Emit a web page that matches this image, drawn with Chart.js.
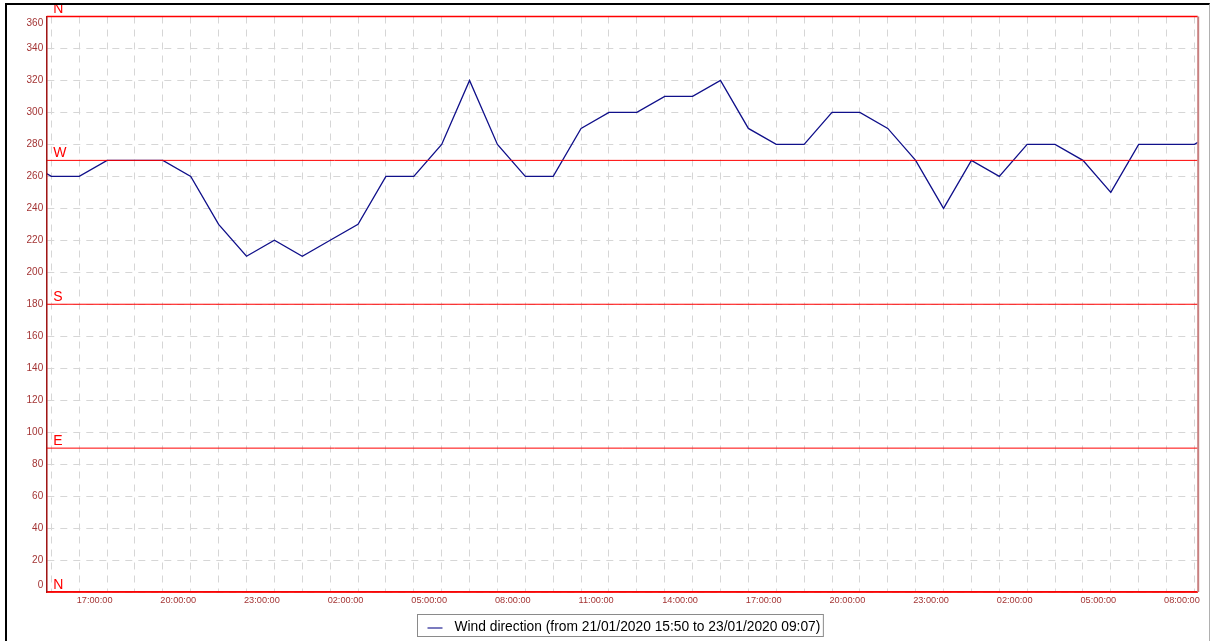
<!DOCTYPE html>
<html>
<head>
<meta charset="utf-8">
<script src="https://cdn.jsdelivr.net/npm/chart.js@4/dist/chart.umd.min.js"></script>
<style>
  html, body { margin: 0; padding: 0; background: #fff; }
  #frame {
    position: absolute; left: 5px; top: 3px; width: 1205px; height: 640px;
    border-left: 2px solid #000; border-top: 2px solid #000; border-right: 1px solid #b0b0b0;
    box-sizing: border-box; overflow: hidden; background: #fff;
  }
  #c { position: absolute; left: -7px; top: -5px; }
</style>
</head>
<body>
<div id="frame"><canvas id="c" width="1211" height="641"></canvas></div>
<script>
// ---- data ----
const seriesLabel = 'Wind direction (from 21/01/2020 15:50 to 23/01/2020 09:07)';
const rangeStart = '21/01/2020 15:50';
const rangeEnd = '23/01/2020 09:07';
const times = [
  '21/01/2020 15:00', '21/01/2020 16:00', '21/01/2020 17:00', '21/01/2020 18:00',
  '21/01/2020 19:00', '21/01/2020 20:00', '21/01/2020 21:00', '21/01/2020 22:00',
  '21/01/2020 23:00', '22/01/2020 00:00', '22/01/2020 01:00', '22/01/2020 02:00',
  '22/01/2020 03:00', '22/01/2020 04:00', '22/01/2020 05:00', '22/01/2020 06:00',
  '22/01/2020 07:00', '22/01/2020 08:00', '22/01/2020 09:00', '22/01/2020 10:00',
  '22/01/2020 11:00', '22/01/2020 12:00', '22/01/2020 13:00', '22/01/2020 14:00',
  '22/01/2020 15:00', '22/01/2020 16:00', '22/01/2020 17:00', '22/01/2020 18:00',
  '22/01/2020 19:00', '22/01/2020 20:00', '22/01/2020 21:00', '22/01/2020 22:00',
  '22/01/2020 23:00', '23/01/2020 00:00', '23/01/2020 01:00', '23/01/2020 02:00',
  '23/01/2020 03:00', '23/01/2020 04:00', '23/01/2020 05:00', '23/01/2020 06:00',
  '23/01/2020 07:00', '23/01/2020 08:00', '23/01/2020 09:00', '23/01/2020 10:00'
];
const windDirection = [
  270, 260, 260, 270, 270, 270, 260, 230, 210, 220, 210, 220,
  230, 260, 260, 280, 320, 280, 260, 260, 290, 300, 300, 310,
  310, 320, 290, 280, 280, 300, 300, 290, 270, 240, 270, 260,
  280, 280, 270, 250, 280, 280, 280, 290
];
const cardinalValues = [0, 90, 180, 270, 360];
const cardinalLabels = ['N', 'E', 'S', 'W', 'N'];
const yMin = 0, yMax = 360, yStep = 20;
const xLabelEveryHours = 3;

// hours since 21/01/2020 00:00
function toHours(s) {
  const [d, t] = s.split(' ');
  const day = parseInt(d.split('/')[0], 10);
  const [hh, mm] = t.split(':').map(Number);
  return (day - 21) * 24 + hh + mm / 60;
}
const pad2 = n => (n < 10 ? '0' : '') + n;

const points = times.map((t, i) => ({ x: toHours(t), y: windDirection[i] }));

const FONT = '"Liberation Sans", Arial, Helvetica, sans-serif';
const tickColor = '#a33434';
const Y_FONT_SIZE = 10;
const Y_PAD = 3.5;

const overlay = {
  id: 'overlay',
  afterDatasetsDraw(chart) {
    const { ctx, chartArea: ca, scales: { y } } = chart;
    ctx.save();
    // cardinal reference lines
    cardinalValues.forEach((v, i) => {
      const py = y.getPixelForValue(v);
      ctx.strokeStyle = '#ff0000';
      ctx.lineWidth = (v === yMin || v === yMax) ? 1.6 : 1;
      ctx.beginPath();
      ctx.moveTo(ca.left, py);
      ctx.lineTo(ca.right, py);
      ctx.stroke();
      ctx.fillStyle = '#ff0000';
      ctx.font = '14px ' + FONT;
      ctx.textAlign = 'left';
      ctx.textBaseline = 'alphabetic';
      ctx.fillText(cardinalLabels[i], ca.left + 6.5, py - 3.5);
    });
    // left axis
    ctx.strokeStyle = '#a01818';
    ctx.lineWidth = 1.3;
    ctx.beginPath();
    ctx.moveTo(ca.left, ca.top);
    ctx.lineTo(ca.left, ca.bottom);
    ctx.stroke();
    // right border
    ctx.strokeStyle = '#c88080';
    ctx.lineWidth = 2;
    ctx.beginPath();
    ctx.moveTo(ca.right + 0.5, ca.top);
    ctx.lineTo(ca.right + 0.5, ca.bottom);
    ctx.stroke();
    // end tick labels of the y axis, kept inside the plot height
    ctx.fillStyle = tickColor;
    ctx.font = Y_FONT_SIZE + 'px ' + FONT;
    ctx.textAlign = 'right';
    ctx.textBaseline = 'middle';
    ctx.fillText(String(yMax), ca.left - Y_PAD, Math.max(y.getPixelForValue(yMax), ca.top + 7));
    ctx.fillText(String(yMin), ca.left - Y_PAD, Math.min(y.getPixelForValue(yMin), ca.bottom - 6.5));
    ctx.restore();
  },
  afterDraw(chart) {
    const { ctx, chartArea: ca } = chart;
    const ds = chart.data.datasets[0];
    ctx.save();
    ctx.font = '13.8px ' + FONT;
    const tw = ctx.measureText(ds.label).width;
    const padL = 10, sampleW = 15, gap = 12, padR = 3;
    const bw = padL + sampleW + gap + tw + padR;
    const bh = 22;
    const cx = (ca.left + ca.right) / 2 - 2.5;
    const bx = Math.round(cx - bw / 2) + 0.5;
    const by = chart.height - 26.5;
    ctx.fillStyle = '#fff';
    ctx.fillRect(bx, by, bw, bh);
    ctx.strokeStyle = '#8a8a8a';
    ctx.lineWidth = 1;
    ctx.strokeRect(bx, by, bw, bh);
    ctx.strokeStyle = ds.borderColor;
    ctx.lineWidth = 1.1;
    ctx.beginPath();
    ctx.moveTo(bx + padL, by + 13.5);
    ctx.lineTo(bx + padL + sampleW, by + 13.5);
    ctx.stroke();
    ctx.fillStyle = '#000';
    ctx.textAlign = 'left';
    ctx.textBaseline = 'alphabetic';
    ctx.fillText(ds.label, bx + padL + sampleW + gap, by + 16);
    ctx.restore();
  }
};

new Chart(document.getElementById('c'), {
  type: 'line',
  data: {
    datasets: [{
      label: seriesLabel,
      data: points,
      borderColor: '#10108a',
      borderWidth: 1.3,
      pointRadius: 0,
      pointHoverRadius: 0,
      tension: 0,
      fill: false
    }]
  },
  options: {
    responsive: false,
    animation: false,
    devicePixelRatio: 1,
    layout: { padding: { left: 0, top: 16.5, right: 13.3, bottom: 0 } },
    plugins: { legend: { display: false }, tooltip: { enabled: false } },
    scales: {
      x: {
        type: 'linear',
        min: toHours(rangeStart),
        max: toHours(rangeEnd),
        afterFit(scale) { scale.height = 49; },
        grid: { color: '#d6d6d6', lineWidth: 1, drawTicks: false },
        border: { display: true, color: '#e01818', width: 1.6, dash: [7, 6] },
        ticks: {
          stepSize: 1,
          includeBounds: false,
          autoSkip: false,
          maxRotation: 0,
          minRotation: 0,
          align: 'start',
          labelOffset: -2.5,
          padding: 3,
          color: tickColor,
          font: { family: FONT, size: 9.2 },
          callback(v) {
            if (Math.abs(v - Math.round(v)) > 1e-6) return '';
            const h = ((Math.round(v) % 24) + 24) % 24;
            return (h % xLabelEveryHours === 2) ? pad2(h) + ':00:00' : '';
          }
        }
      },
      y: {
        min: yMin,
        max: yMax,
        afterFit(scale) { scale.width = 46.7; },
        grid: { color: '#d6d6d6', lineWidth: 1, drawTicks: false },
        border: { display: true, color: '#a01818', width: 1.3, dash: [7, 6] },
        ticks: {
          stepSize: yStep,
          padding: Y_PAD,
          color: tickColor,
          font: { family: FONT, size: Y_FONT_SIZE },
          // the two end labels are drawn by the overlay plugin, nudged inside the plot
          callback(v) { return (v === yMin || v === yMax) ? '' : String(v); }
        }
      }
    }
  },
  plugins: [overlay]
});
</script>
</body>
</html>
